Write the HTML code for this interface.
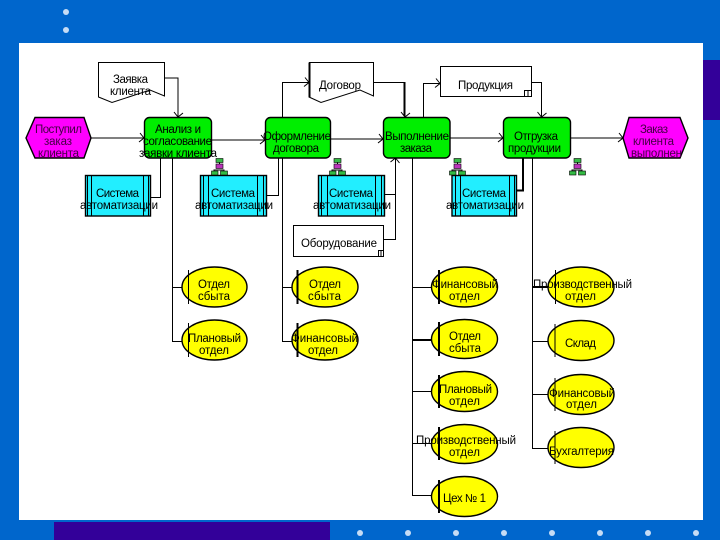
<!DOCTYPE html>
<html lang="ru"><head><meta charset="utf-8"><title>Диаграмма</title>
<style>
html,body{margin:0;padding:0;background:#0066cc}
svg{display:block}
text{font-family:"Liberation Sans","DejaVu Sans",sans-serif;font-size:11.5px;fill:#000;text-anchor:start}
text.m{fill:#440044}
.l{fill:none;stroke:#000;stroke-width:1}
.t{fill:none;stroke:#000;stroke-width:2}
.s{stroke:#000;stroke-width:1.4}
</style></head><body>
<svg width="720" height="540" viewBox="0 0 720 540" xmlns="http://www.w3.org/2000/svg">
<defs>
<marker id="a" markerUnits="userSpaceOnUse" markerWidth="10" markerHeight="12" refX="8" refY="6" orient="auto"><path d="M4 1L8 6L3 10" fill="none" stroke="#000" stroke-width="1"/></marker>
<g id="tree">
<path d="M8.500 4V8M8.500 12H3V14M8.500 12H13V14" fill="none" stroke="#000"/>
<rect x="5" y="0.500" width="7" height="4" fill="#33bb44" stroke="#000" stroke-width=".6"/>
<rect x="5" y="6" width="7" height="4.500" fill="#bb33bb" stroke="#000" stroke-width=".6"/>
<rect x="0.500" y="13" width="6.500" height="4" fill="#33bb44" stroke="#000" stroke-width=".6"/>
<rect x="9.500" y="13" width="7" height="4" fill="#33bb44" stroke="#000" stroke-width=".6"/>
</g>
<g id="dot"><circle r="3" fill="#c6dcf5"/></g>
</defs>

<rect width="720" height="540" fill="#0066cc"/>
<rect x="19" y="43" width="684" height="477" fill="#fff"/>
<rect x="703" y="60" width="17" height="60" fill="#330099"/>
<rect x="54" y="522" width="276" height="18" fill="#330099"/>
<use href="#dot" x="66" y="12"/><use href="#dot" x="66" y="30"/>
<use href="#dot" x="360" y="533"/><use href="#dot" x="408" y="533"/><use href="#dot" x="456" y="533"/><use href="#dot" x="504" y="533"/><use href="#dot" x="552" y="533"/><use href="#dot" x="600" y="533"/><use href="#dot" x="648" y="533"/><use href="#dot" x="696" y="533"/>

<!-- connectors -->
<path class="l" d="M164 78H178V117" marker-end="url(#a)"/>
<path class="l" d="M91 138H144" marker-end="url(#a)"/>
<path class="l" d="M212 140H265" marker-end="url(#a)"/>
<path class="l" d="M331 139H383" marker-end="url(#a)"/>
<path class="l" d="M450 138H503" marker-end="url(#a)"/>
<path class="l" d="M571 138H623" marker-end="url(#a)"/>
<path class="l" d="M282.500 117V82.500H309" marker-end="url(#a)"/>
<path class="l" d="M374 82.500H405V117" marker-end="url(#a)"/>
<path class="t" d="M404.500 82V116"/>
<path class="l" d="M423.500 117V83.500H440" marker-end="url(#a)"/>
<path class="l" d="M532 82.500H541.500V117" marker-end="url(#a)"/>
<path class="l" d="M160.500 158V197.500H151"/>
<path class="l" d="M278.500 158V195.500H266"/>
<path class="l" d="M384 194.500H395.500V158" marker-end="url(#a)"/>
<path class="l" d="M384 239.500H395.500V194"/>
<path class="t" d="M523 158V190.500H517"/>
<path class="l" d="M172.500 158V341.500H182M172 287.500H182"/>
<path class="l" d="M282.500 158V341.500H292M282 287.500H292"/>
<path class="l" d="M412.500 158V495.500H432M412 287.500H432M412 391.500H432M412 443.500H432"/>
<path class="t" d="M412 340H432"/>
<path class="l" d="M532.500 158V448.500H548M532 341.500H548M532 394.500H548"/>
<path class="t" d="M532 287H548"/>

<!-- events -->
<polygon class="s" fill="#ff00ff" points="26,138 35,117.500 84,117.500 91,138 84,158 35,158"/>
<polygon class="s" fill="#ff00ff" points="623,138 629,117.500 680,117.500 688,138 680,158 629,158"/>

<!-- documents -->
<polygon class="l" fill="#fff" points="98.500,62.500 164.500,62.500 164.500,96 150,90 112,102.500 98.500,97"/>
<polygon class="l" fill="#fff" points="309.500,62.500 373.500,62.500 373.500,96 360,90 321,102.500 309,97"/>
<path d="M309.500 62.500V97" stroke="#000" stroke-width="2"/>
<rect class="l" x="440.500" y="66.500" width="91" height="30" fill="#fff"/>
<path class="l" d="M524.500 96V90.500H531.500M528 91V96"/>
<rect class="l" x="293.500" y="225.500" width="90" height="31" fill="#fff"/>
<path class="l" d="M378.500 256V250.500H383.500M381 251V256"/>

<!-- functions -->
<rect class="s" x="144.500" y="117.500" width="67" height="40.500" rx="5" fill="#00ee00"/>
<rect class="s" x="265.500" y="117.500" width="65" height="40.500" rx="5" fill="#00ee00"/>
<rect class="s" x="383.500" y="117.500" width="66.500" height="40.500" rx="5" fill="#00ee00"/>
<rect class="s" x="503.500" y="117.500" width="67" height="40.500" rx="5" fill="#00ee00"/>

<!-- systems -->
<g fill="#22eeff">
<rect class="s" x="85.500" y="175.500" width="65" height="40.500"/>
<rect class="s" x="200.500" y="175.500" width="66" height="40.500"/>
<rect class="s" x="318.500" y="175.500" width="66" height="40.500"/>
<rect class="s" x="452" y="175.500" width="64.500" height="40.500"/>
</g>
<path class="l" d="M87.500 176V216M91.500 176V216M143.500 176V216M148.500 176V216M203.500 176V216M208.500 176V216M257.500 176V216M263.500 176V216M321.500 176V216M327.500 176V216M375.500 176V216M381.500 176V216M455.500 176V216M460.500 176V216M509.500 176V216M514.500 176V216"/>

<!-- trees -->
<use href="#tree" x="211" y="158"/><use href="#tree" x="329" y="158"/><use href="#tree" x="449" y="158"/><use href="#tree" x="569" y="158"/>

<!-- resources -->
<g fill="#ffff00" class="s">
<ellipse cx="214.500" cy="287" rx="32.500" ry="20"/>
<ellipse cx="214.500" cy="340" rx="32.500" ry="20"/>
<ellipse cx="325" cy="287" rx="33" ry="20"/>
<ellipse cx="325" cy="340" rx="33" ry="20"/>
<ellipse cx="464.500" cy="287" rx="33" ry="20"/>
<ellipse cx="464.500" cy="339" rx="33" ry="19.500"/>
<ellipse cx="464.500" cy="391.500" rx="33" ry="20"/>
<ellipse cx="464.500" cy="444" rx="33" ry="19.500"/>
<ellipse cx="464.500" cy="496.500" rx="33" ry="20"/>
<ellipse cx="581" cy="287" rx="33" ry="20"/>
<ellipse cx="581" cy="340.500" rx="33" ry="20"/>
<ellipse cx="581" cy="394.500" rx="33" ry="20"/>
<ellipse cx="581" cy="447.500" rx="33" ry="20"/>
</g>
<path class="l" d="M188.500 270V304M188.500 323V357M555.500 270V304M555 324V357M555 378V411M555 431V464"/>
<path class="t" d="M297.500 270V304M297.500 323V357M439 270V304M439 322V356M439 375V408M439 427V460M439 480V513"/>

<!-- labels -->
<text class="m" x="35" y="133" textLength="47">Поступил</text>
<text class="m" x="44" y="145" textLength="28">заказ</text>
<text class="m" x="38" y="157" textLength="41">клиента</text>
<text x="113" y="83" textLength="35">Заявка</text>
<text x="110" y="95" textLength="41">клиента</text>
<text x="155" y="133" textLength="46">Анализ и</text>
<text x="143" y="145" textLength="69">согласование</text>
<text x="139" y="157" textLength="78">заявки клиента</text>
<text x="263" y="140" textLength="68">Оформление</text>
<text x="273" y="152" textLength="46">договора</text>
<text x="385" y="140" textLength="64">Выполнение</text>
<text x="400" y="152" textLength="32">заказа</text>
<text x="514" y="140" textLength="44">Отгрузка</text>
<text x="508" y="152" textLength="53">продукции</text>
<text class="m" x="640" y="133" textLength="28">Заказ</text>
<text class="m" x="633" y="145" textLength="41">клиента</text>
<text class="m" x="631" y="157" textLength="51">выполнен</text>
<text x="319" y="89" textLength="42">Договор</text>
<text x="458" y="89" textLength="55">Продукция</text>
<text x="301" y="247" textLength="76">Оборудование</text>

<text x="96" y="197" textLength="43">Система</text><text x="80" y="209" textLength="78">автоматизации</text>
<text x="211" y="197" textLength="44">Система</text><text x="195" y="209" textLength="78">автоматизации</text>
<text x="329" y="197" textLength="44">Система</text><text x="313" y="209" textLength="78">автоматизации</text>
<text x="462" y="197" textLength="44">Система</text><text x="446" y="209" textLength="78">автоматизации</text>

<text x="198" y="288" textLength="32">Отдел</text><text x="198" y="300" textLength="32">сбыта</text>
<text x="188" y="342" textLength="53">Плановый</text><text x="199" y="354" textLength="30">отдел</text>
<text x="309" y="288" textLength="32">Отдел</text><text x="308" y="300" textLength="33">сбыта</text>
<text x="291" y="342" textLength="67">Финансовый</text><text x="308" y="354" textLength="30">отдел</text>
<text x="432" y="288" textLength="66">Финансовый</text><text x="449" y="300" textLength="31">отдел</text>
<text x="449" y="340" textLength="32">Отдел</text><text x="449" y="352" textLength="32">сбыта</text>
<text x="439" y="393" textLength="53">Плановый</text><text x="449" y="405" textLength="31">отдел</text>
<text x="416" y="444" textLength="100">Производственный</text><text x="449" y="456" textLength="31">отдел</text>
<text x="443" y="502" textLength="43">Цех № 1</text>
<text x="533" y="288" textLength="99">Производственный</text><text x="565" y="300" textLength="31">отдел</text>
<text x="565" y="347" textLength="31">Склад</text>
<text x="549" y="397" textLength="66">Финансовый</text><text x="566" y="408" textLength="31">отдел</text>
<text x="549" y="455" textLength="65">Бухгалтерия</text>
</svg>
</body></html>
